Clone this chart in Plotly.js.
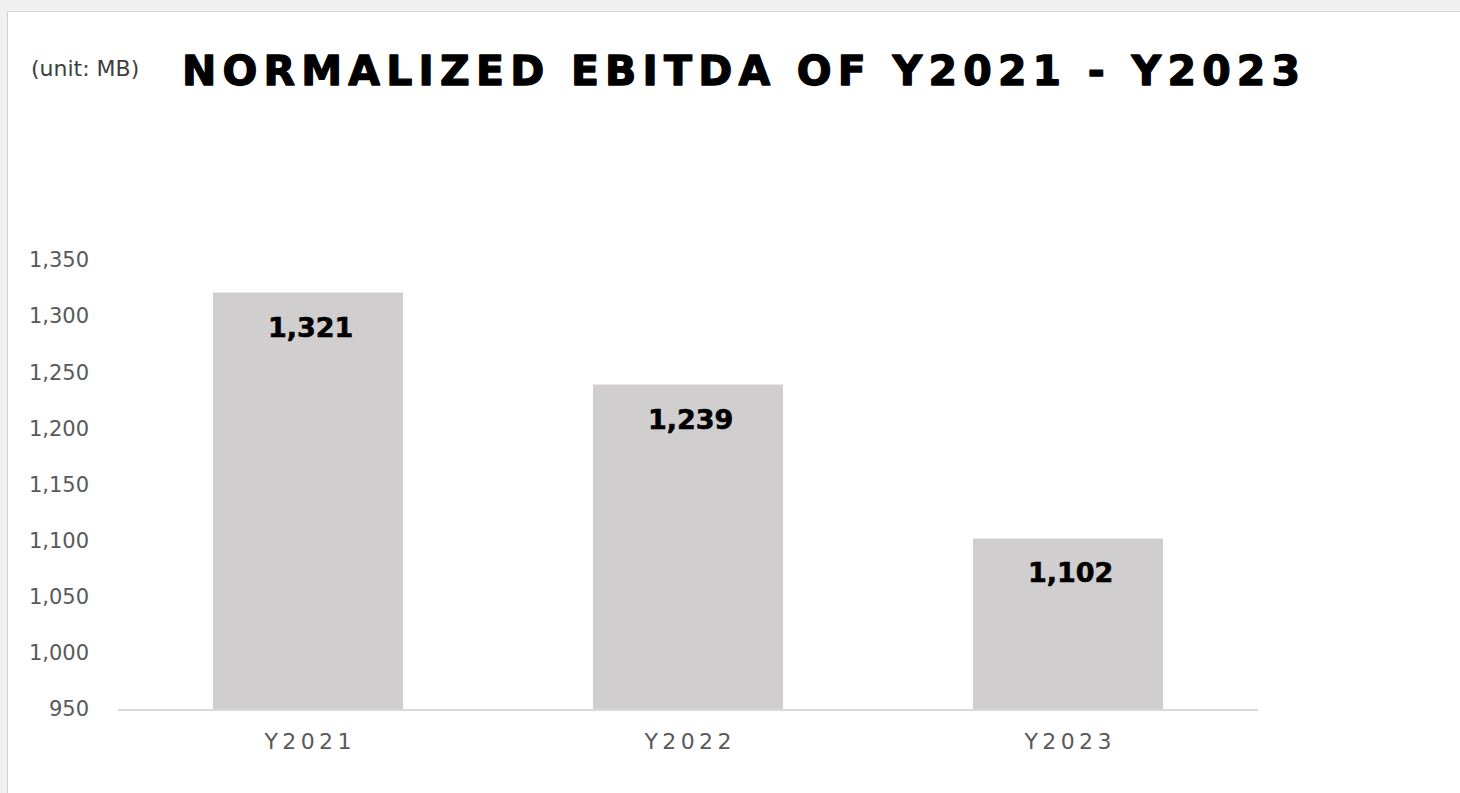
<!DOCTYPE html>
<html>
<head>
<meta charset="utf-8">
<script src="https://cdn.plot.ly/plotly-3.0.1.min.js"></script>
<style>
  html, body { margin: 0; padding: 0; background: #f0f0f0; width: 1460px; height: 793px; overflow: hidden; }
  #frame { position: absolute; left: 7px; top: 11px; width: 1453px; height: 782px;
           border-left: 1px solid #cfcfcf; border-top: 1px solid #d6d6d6; background: #ffffff; }
  #chart { width: 1452px; height: 781px; }
</style>
</head>
<body>
<div id="frame"><div id="chart"></div></div>
<script>
// ---- data ----
const categories = ["Y2021", "Y2022", "Y2023"];
const ebitda = [1321, 1239, 1102];
const yTickValues = [950, 1000, 1050, 1100, 1150, 1200, 1250, 1300, 1350];
const chartTitle = "NORMALIZED EBITDA OF Y2021 - Y2023";
const unitNote = "(unit: MB)";

const spaced = s => s.split("").join("\u2009");

const trace = {
  type: "bar",
  x: categories,
  y: ebitda,
  marker: { color: "#d0cece" },
  hoverinfo: "none",
  showlegend: false
};

const labelAnnotations = categories.map((c, i) => ({
  x: c, y: ebitda[i], xref: "x", yref: "y",
  text: ebitda[i].toLocaleString("en-US"),
  showarrow: false, yanchor: "top", xanchor: "center", xshift: 2, yshift: -17,
  font: { family: "DejaVu Sans", size: 27, color: "#000000", weight: "bold" }
}));

const layout = {
  width: 1452, height: 781,
  paper_bgcolor: "#ffffff", plot_bgcolor: "#ffffff",
  margin: { l: 110, r: 202, t: 248, b: 84 },
  bargap: 0.5,
  title: {
    text: "<b>" + chartTitle + "</b>",
    xref: "container", yref: "container",
    x: 174 / 1452, xanchor: "left",
    y: 1 - 59 / 781, yanchor: "middle",
    font: { family: "DejaVu Sans", size: 41, color: "#000000" }
  },
  xaxis: {
    type: "category",
    tickvals: categories,
    ticktext: categories.map(spaced),
    showline: true, linecolor: "#d9d9d9", linewidth: 2,
    showgrid: false, zeroline: false, ticks: "",
    ticklabelstandoff: 12,
    tickfont: { family: "DejaVu Sans", size: 22, color: "#595959" },
    fixedrange: true
  },
  yaxis: {
    range: [950, 1350],
    tickvals: yTickValues,
    tickformat: ",",
    showline: false, showgrid: false, zeroline: false, ticks: "",
    ticklabelstandoff: 28,
    tickfont: { family: "DejaVu Sans", size: 21, color: "#595959" },
    fixedrange: true
  },
  annotations: [
    {
      text: unitNote, xref: "paper", yref: "paper",
      x: (21 - 110) / 1140, xanchor: "left",
      y: 1 + (248 - 56) / 449, yanchor: "middle",
      showarrow: false,
      font: { family: "DejaVu Sans", size: 22, color: "#404040" }
    }
  ].concat(labelAnnotations)
};

Plotly.newPlot("chart", [trace], layout, { displayModeBar: false, staticPlot: true }).then(() => {
  const t = document.querySelector("#chart .gtitle");
  if (t) {
    t.style.letterSpacing = "6.2px";
    t.style.stroke = "#000000";
    t.style.strokeWidth = "1.3px";
    t.style.strokeLinejoin = "round";
  }
  document.querySelectorAll("#chart .annotation-text").forEach((el, i) => {
    if (i > 0) { el.style.stroke = "#000000"; el.style.strokeWidth = "0.6px"; }
  });
});
</script>
</body>
</html>
